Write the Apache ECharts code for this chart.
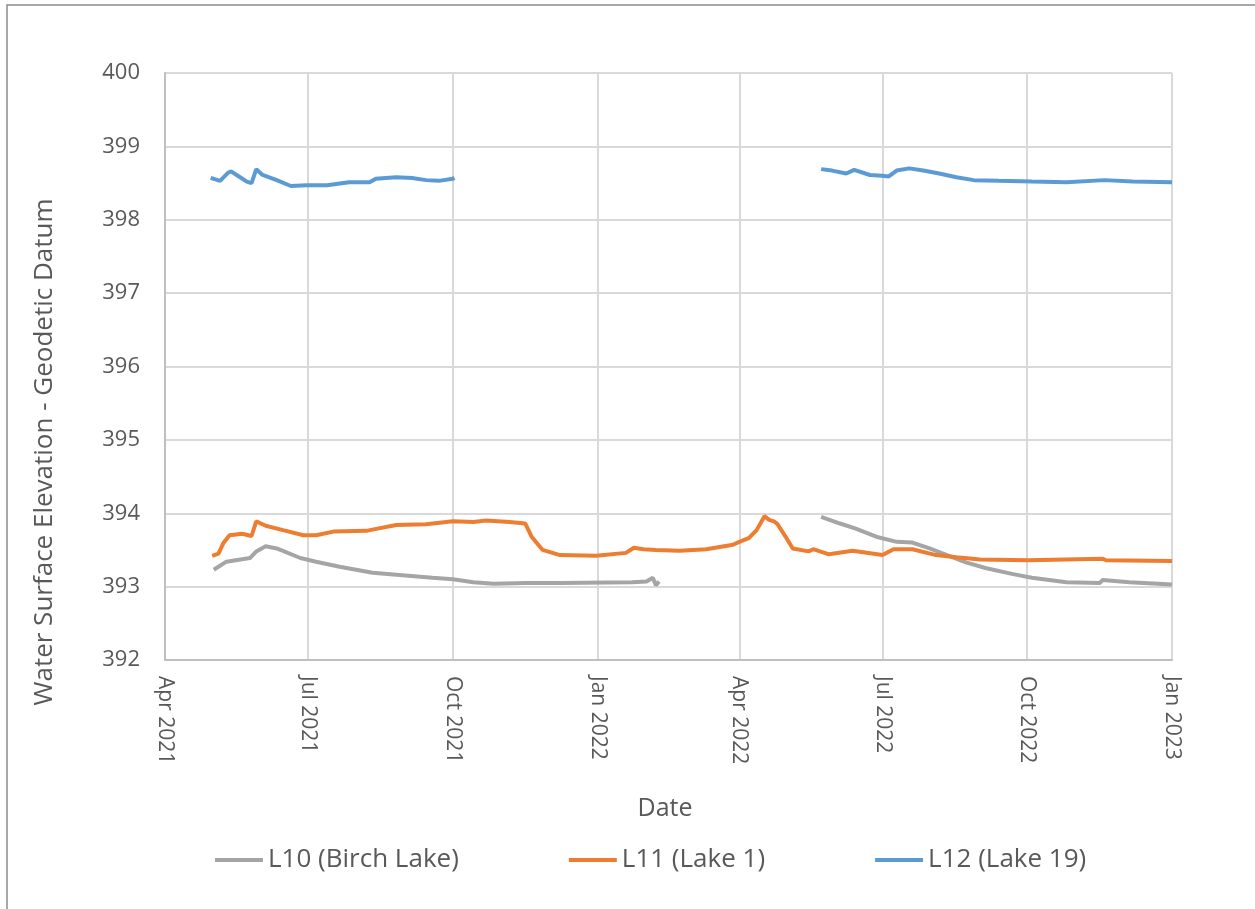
<!DOCTYPE html>
<html>
<head>
<meta charset="utf-8">
<script src="https://cdn.jsdelivr.net/npm/echarts@6/dist/echarts.min.js"></script>
<style>
html,body{margin:0;padding:0;background:#fff;}
#chart{width:1255px;height:909px;}
</style>
</head>
<body>
<div id="chart"></div>
<script>
// ---- Data ----
const seriesNames = ['L10 (Birch Lake)', 'L11 (Lake 1)', 'L12 (Lake 19)'];
const yTicks = [392, 393, 394, 395, 396, 397, 398, 399, 400];
const xTickLabels = ['Apr 2021','Jul 2021','Oct 2021','Jan 2022','Apr 2022','Jul 2022','Oct 2022','Jan 2023'];

const l10Dates = ['2021-05-02','2021-05-10','2021-05-25','2021-05-29','2021-06-04','2021-06-11','2021-06-26','2021-07-06','2021-07-21','2021-08-11','2021-08-28','2021-09-18','2021-10-01','2021-10-14','2021-10-27','2021-11-16','2021-12-08','2022-01-23','2022-02-01','2022-02-05','2022-02-07','2022-02-09',
  '2022-03-15',
  '2022-05-23','2022-06-04','2022-06-14','2022-06-27','2022-07-10','2022-07-20','2022-07-31','2022-08-11','2022-08-23','2022-09-05','2022-09-22','2022-10-04','2022-10-26','2022-11-16','2022-11-18','2022-12-05','2023-01-01'];
const l10Values = [393.23,393.34,393.39,393.48,393.55,393.52,393.39,393.34,393.27,393.19,393.16,393.12,393.10,393.06,393.04,393.05,393.05,393.06,393.07,393.12,393.02,393.07,
  null,
  393.95,393.86,393.79,393.68,393.61,393.60,393.52,393.43,393.33,393.25,393.17,393.12,393.06,393.05,393.09,393.06,393.03];

const l11Dates = ['2021-05-01','2021-05-05','2021-05-08','2021-05-12','2021-05-20','2021-05-26','2021-05-29','2021-06-04','2021-06-15','2021-06-28','2021-07-06','2021-07-17','2021-08-07','2021-08-14','2021-08-26','2021-09-14','2021-10-01','2021-10-14','2021-10-22','2021-11-06','2021-11-16','2021-11-20','2021-11-27','2021-12-08','2021-12-31','2022-01-19','2022-01-24','2022-01-30','2022-02-07','2022-02-22','2022-03-11','2022-03-28','2022-04-01','2022-04-07','2022-04-12','2022-04-17','2022-04-20','2022-04-23','2022-04-25','2022-05-01','2022-05-05','2022-05-15','2022-05-18','2022-05-28','2022-06-12','2022-07-01','2022-07-08','2022-07-20','2022-08-04','2022-08-17','2022-09-01','2022-10-02','2022-11-18','2022-11-20','2023-01-01'];
const l11Values = [393.42,393.45,393.59,393.70,393.72,393.69,393.89,393.83,393.77,393.70,393.70,393.75,393.76,393.79,393.84,393.85,393.89,393.88,393.90,393.88,393.86,393.68,393.50,393.43,393.42,393.46,393.53,393.51,393.50,393.49,393.51,393.57,393.61,393.66,393.77,393.96,393.91,393.89,393.86,393.66,393.52,393.48,393.51,393.44,393.49,393.43,393.51,393.51,393.43,393.40,393.37,393.36,393.38,393.36,393.35];

const l12Dates = ['2021-04-30','2021-05-06','2021-05-11','2021-05-13','2021-05-18','2021-05-23','2021-05-26','2021-05-29','2021-06-02','2021-06-11','2021-06-20','2021-06-30','2021-07-13','2021-07-27','2021-08-09','2021-08-13','2021-08-26','2021-09-05','2021-09-14','2021-09-22','2021-10-01','2021-10-02',
  '2022-01-15',
  '2022-05-23','2022-05-30','2022-06-08','2022-06-13','2022-06-23','2022-07-01','2022-07-05','2022-07-10','2022-07-18','2022-07-27','2022-08-06','2022-08-17','2022-08-28','2022-09-13','2022-10-04','2022-10-26','2022-11-19','2022-12-07','2023-01-01'];
const l12Values = [398.57,398.53,398.64,398.66,398.59,398.52,398.50,398.69,398.61,398.54,398.46,398.47,398.47,398.51,398.51,398.56,398.58,398.57,398.54,398.53,398.56,398.57,
  null,
  398.69,398.67,398.63,398.68,398.61,398.60,398.59,398.67,398.70,398.67,398.63,398.58,398.54,398.53,398.52,398.51,398.54,398.52,398.51];

const colors = ['#A5A5A5', '#ED7D31', '#5B9BD5'];

function zip(d, v) { return d.map((x, i) => [x, v[i]]); }

const FONT = '"Open Sans", "Liberation Sans", sans-serif';
const TXT = '#595959';

const chart = echarts.init(document.getElementById('chart'), null, {renderer: 'canvas'});
const DAY = 86400000;

chart.setOption({
  animation: false,
  backgroundColor: '#ffffff',
  color: colors,
  grid: { left: 165, right: 83, top: 73, bottom: 249, containLabel: false, outerBoundsMode: 'none' },
  legend: {
    data: seriesNames,
    left: 210,
    top: 842,
    icon: 'rect',
    itemWidth: 48,
    itemHeight: 4,
    itemGap: 110,
    textStyle: { fontFamily: FONT, fontSize: 26, color: TXT }
  },
  xAxis: {
    type: 'time',
    min: '2021-04-01',
    max: '2023-01-01',
    splitNumber: 7,
    minInterval: 89 * DAY,
    maxInterval: 92 * DAY,
    axisLine: { show: true, lineStyle: { color: '#bfbfbf', width: 2 } },
    axisTick: { show: false },
    splitLine: { show: true, lineStyle: { color: '#d9d9d9', width: 2 } },
    axisLabel: {
      rotate: -90,
      margin: 16,
      interval: 0,
      hideOverlap: false,
      showMinLabel: true,
      showMaxLabel: true,
      formatter: '{MMM} {yyyy}',
      fontFamily: FONT, fontSize: 21, color: TXT
    }
  },
  yAxis: {
    type: 'value',
    min: yTicks[0],
    max: yTicks[yTicks.length - 1],
    interval: 1,
    axisLine: { show: true, lineStyle: { color: '#bfbfbf', width: 2 } },
    axisTick: { show: false },
    splitLine: { show: true, lineStyle: { color: '#d9d9d9', width: 2 } },
    axisLabel: { margin: 25, fontFamily: FONT, fontSize: 22, color: TXT }
  },
  graphic: [
    { type: 'rect', z: -10, silent: true, shape: { x: 7, y: 5, width: 1300, height: 960 },
      style: { fill: 'none', stroke: '#8c8c8c', lineWidth: 1.5 } },
    { type: 'text', x: 45, y: 452, rotation: Math.PI / 2, silent: true,
      style: { text: 'Water Surface Elevation - Geodetic Datum', font: '26px ' + FONT, fill: TXT,
               textAlign: 'center', textVerticalAlign: 'middle' } },
    { type: 'text', x: 665, y: 809, silent: true,
      style: { text: 'Date', font: '25px ' + FONT, fill: TXT, textAlign: 'center', textVerticalAlign: 'middle' } }
  ],
  series: [
    { name: seriesNames[0], type: 'line', data: zip(l10Dates, l10Values), showSymbol: false, connectNulls: false,
      lineStyle: { width: 4, color: colors[0] }, itemStyle: { color: colors[0] } },
    { name: seriesNames[1], type: 'line', data: zip(l11Dates, l11Values), showSymbol: false, connectNulls: false,
      lineStyle: { width: 4, color: colors[1] }, itemStyle: { color: colors[1] } },
    { name: seriesNames[2], type: 'line', data: zip(l12Dates, l12Values), showSymbol: false, connectNulls: false,
      lineStyle: { width: 4, color: colors[2] }, itemStyle: { color: colors[2] } }
  ]
});
</script>
</body>
</html>
